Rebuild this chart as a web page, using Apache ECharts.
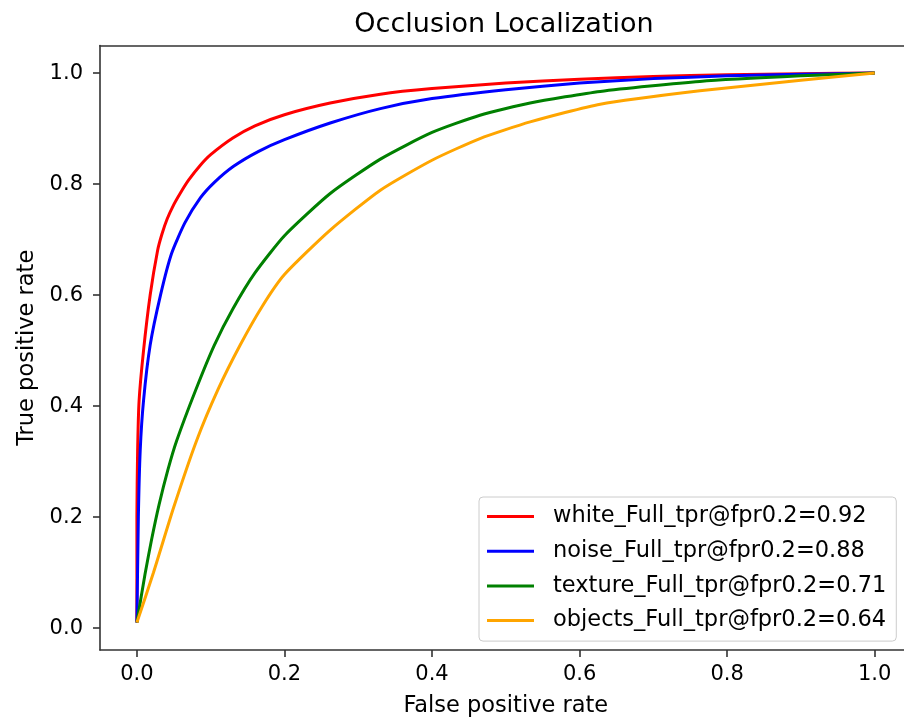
<!DOCTYPE html>
<html>
<head>
<meta charset="utf-8">
<script src="https://cdn.jsdelivr.net/npm/echarts@6/dist/echarts.min.js"></script>
<style>html,body{margin:0;padding:0;background:#fff;overflow:hidden;}#c{width:904px;height:720px;}</style>
</head>
<body>
<div id="c"></div>
<script>
var seriesNames = ['white_Full_tpr@fpr0.2=0.92', 'noise_Full_tpr@fpr0.2=0.88', 'texture_Full_tpr@fpr0.2=0.71', 'objects_Full_tpr@fpr0.2=0.64'];
var seriesColors = ['#ff0000', '#0000ff', '#008000', '#ffa500'];

var whiteFpr = [0, 0, 0.001, 0.003, 0.009, 0.018, 0.028, 0.034, 0.041, 0.05, 0.059, 0.07, 0.086, 0.1, 0.13, 0.16, 0.2, 0.262, 0.33, 0.4, 0.5, 0.6, 0.7, 0.8, 0.9, 1.0];
var whiteTpr = [0.01, 0.2, 0.32, 0.41, 0.50, 0.60, 0.68, 0.71, 0.737, 0.763, 0.784, 0.807, 0.834, 0.853, 0.883, 0.905, 0.925, 0.946, 0.962, 0.972, 0.982, 0.989, 0.994, 0.997, 0.999, 1.0];

var noiseFpr = [0, 0.002, 0.0045, 0.009, 0.018, 0.032, 0.047, 0.065, 0.086, 0.105, 0.131, 0.165, 0.2, 0.262, 0.33, 0.4, 0.5, 0.6, 0.7, 0.8, 0.9, 1.0];
var noiseTpr = [0.01, 0.2, 0.32, 0.41, 0.51, 0.60, 0.675, 0.73, 0.775, 0.803, 0.832, 0.859, 0.88, 0.91, 0.936, 0.954, 0.970, 0.982, 0.99, 0.995, 0.998, 1.0];

var textureFpr = [0, 0.011, 0.02, 0.03, 0.042, 0.054, 0.08, 0.105, 0.13, 0.16, 0.2, 0.262, 0.33, 0.4, 0.465, 0.533, 0.628, 0.763, 0.9, 1.0];
var textureTpr = [0.01, 0.097, 0.16, 0.222, 0.285, 0.338, 0.43, 0.51, 0.575, 0.64, 0.707, 0.783, 0.845, 0.893, 0.924, 0.946, 0.967, 0.985, 0.995, 1.0];

var objectsFpr = [0, 0.0225, 0.05, 0.081, 0.11, 0.14, 0.17, 0.2, 0.262, 0.33, 0.4, 0.465, 0.533, 0.628, 0.763, 0.9, 1.0];
var objectsTpr = [0.01, 0.10, 0.218, 0.338, 0.43, 0.51, 0.58, 0.637, 0.717, 0.789, 0.843, 0.882, 0.912, 0.944, 0.968, 0.987, 1.0];

var xTicks = [0, 0.2, 0.4, 0.6, 0.8, 1.0];
var yTicks = [0, 0.2, 0.4, 0.6, 0.8, 1.0];

function zip(a, b) { return a.map(function (v, i) { return [v, b[i]]; }); }
var allFpr = [whiteFpr, noiseFpr, textureFpr, objectsFpr];
var allTpr = [whiteTpr, noiseTpr, textureTpr, objectsTpr];

var FONT = 'DejaVu Sans';
var AXC = '#333';
var chart = echarts.init(document.getElementById('c'), null, {renderer: 'canvas'});
chart.setOption({
  animation: false,
  backgroundColor: '#ffffff',
  title: {
    text: 'Occlusion Localization',
    left: 499, textAlign: 'center', top: 6,
    textStyle: {fontFamily: FONT, fontSize: 27, fontWeight: 'normal', color: '#000'}
  },
  grid: {
    left: 100, top: 45.6, bottom: 70, right: -7.6,
    outerBoundsMode: 'none', containLabel: false,
    show: false
  },
  legend: {
    orient: 'vertical',
    left: 479, top: 497,
    padding: [8, 10, 9, 8],
    itemGap: 11.7,
    itemWidth: 47, itemHeight: 3,
    icon: 'rect',
    borderColor: '#cccccc', borderWidth: 1, borderRadius: 4,
    backgroundColor: 'rgba(255,255,255,0.8)',
    textStyle: {fontFamily: FONT, fontSize: 22.5, color: '#000', lineHeight: 22, padding: [0, 0, 0, 14]},
    data: seriesNames
  },
  xAxis: [{
    type: 'value', min: -0.05, max: 1.05, position: 'bottom',
    name: 'False positive rate', nameLocation: 'middle', nameGap: 45,
    nameTextStyle: {fontFamily: FONT, fontSize: 22.5, color: '#000'},
    axisLine: {show: true, onZero: false, lineStyle: {color: AXC, width: 1.6}},
    axisTick: {show: true, inside: false, length: 7, customValues: xTicks, lineStyle: {color: AXC, width: 1.6}},
    axisLabel: {customValues: xTicks, margin: 14, fontFamily: FONT, fontSize: 21, color: '#000',
      formatter: function (v) { return v.toFixed(1); }},
    splitLine: {show: false}
  }, {
    type: 'value', min: -0.05, max: 1.05, position: 'top',
    axisLine: {show: true, onZero: false, lineStyle: {color: AXC, width: 1.6}},
    axisTick: {show: false}, axisLabel: {show: false}, splitLine: {show: false}
  }],
  yAxis: {
    type: 'value', min: -0.0395, max: 1.0495,
    name: 'True positive rate', nameLocation: 'middle', nameGap: 61, nameRotate: 90,
    nameTextStyle: {fontFamily: FONT, fontSize: 22.5, color: '#000'},
    axisLine: {show: true, onZero: false, lineStyle: {color: AXC, width: 1.6}},
    axisTick: {show: true, inside: false, length: 7, customValues: yTicks, lineStyle: {color: AXC, width: 1.6}},
    axisLabel: {customValues: yTicks, margin: 17, fontFamily: FONT, fontSize: 21, color: '#000',
      formatter: function (v) { return v.toFixed(1); }},
    splitLine: {show: false}
  },
  series: seriesNames.map(function (name, i) {
    return {
      name: name, type: 'line', data: zip(allFpr[i], allTpr[i]),
      xAxisIndex: 0,
      showSymbol: false, symbol: 'none', smooth: 0.2,
      lineStyle: {color: seriesColors[i], width: 3},
      itemStyle: {color: seriesColors[i]},
      z: 2 + i
    };
  })
});
</script>
</body>
</html>
